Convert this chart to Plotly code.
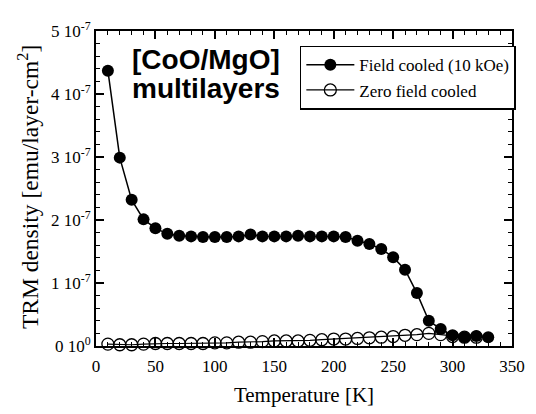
import plotly.graph_objects as go

# temperatures (K) and TRM density (units of 1e-7 emu/layer-cm^2)
temp = [10, 20, 30, 40, 50, 60, 70, 80, 90, 100, 110, 120, 130, 140, 150, 160, 170,
        180, 190, 200, 210, 220, 230, 240, 250, 260, 270, 280, 290, 300, 310, 320, 330]
fc = [4.37, 2.99, 2.32, 2.01, 1.87, 1.78, 1.75, 1.74, 1.73, 1.73, 1.73, 1.74, 1.77, 1.74,
      1.74, 1.74, 1.75, 1.74, 1.74, 1.74, 1.73, 1.67, 1.62, 1.54, 1.41, 1.21, 0.84, 0.40,
      0.27, 0.17, 0.14, 0.16, 0.14]
temp_zfc = [10, 20, 30, 40, 50, 60, 70, 80, 90, 100, 110, 120, 130, 140, 150, 160, 170,
            180, 190, 200, 210, 220, 230, 240, 250, 260, 270, 280, 290, 300, 310, 320]
zfc = [0.03, 0.02, 0.02, 0.03, 0.04, 0.04, 0.04, 0.04, 0.04, 0.05, 0.05, 0.06, 0.06, 0.07,
       0.08, 0.08, 0.08, 0.09, 0.10, 0.11, 0.11, 0.12, 0.13, 0.14, 0.15, 0.17, 0.18, 0.20,
       0.18, 0.15, 0.14, 0.14]

x_ticks = [0, 50, 100, 150, 200, 250, 300, 350]
y_ticks = [0, 1, 2, 3, 4, 5]
y_ticktext = ["0 10<sup>0</sup>"] + [f"{v} 10<sup>-7</sup>" for v in y_ticks[1:]]

SERIF = "Liberation Serif, Times New Roman, serif"
SANS = "Liberation Sans, Arial, sans-serif"
TICK = "black"

fig = go.Figure()
fig.add_trace(go.Scatter(
    x=temp, y=[v * 1e-7 for v in fc], name="Field cooled (10 kOe)", legendgroup="fc",
    mode="lines+markers", line=dict(color="black", width=1.5),
    marker=dict(symbol="circle", size=12, color="black"), cliponaxis=False))
fig.add_trace(go.Scatter(
    x=temp_zfc, y=[v * 1e-7 for v in zfc], name="Zero field cooled", legendgroup="zfc",
    mode="lines+markers", line=dict(color="black", width=1.2),
    marker=dict(symbol="circle-open", size=12, color="black", line=dict(width=1.3)),
    cliponaxis=False))

# ticks inside, mirrored on all four sides (major + minor)
tick_common = dict(ticks="inside", ticklen=8, tickwidth=1.5, tickcolor=TICK,
                   showgrid=False, zeroline=False, showline=True, linecolor="black",
                   linewidth=2, mirror="allticks")
minor_x = dict(dtick=10, ticks="inside", ticklen=4, tickcolor=TICK, tickwidth=1.2)
minor_y = dict(dtick=0.2e-7, ticks="inside", ticklen=4, tickcolor=TICK, tickwidth=1.2)

fig.update_xaxes(range=[0, 350], tickvals=x_ticks, minor=minor_x,
                 tickfont=dict(family=SERIF, size=17, color="black"), ticklabelstandoff=4,
                 title=dict(text="Temperature [K]", font=dict(family=SERIF, size=21, color="black"),
                            standoff=12),
                 **tick_common)
fig.update_yaxes(range=[0, 5e-7], tickvals=[v * 1e-7 for v in y_ticks], ticktext=y_ticktext,
                 minor=minor_y, tickfont=dict(family=SERIF, size=17, color="black"),
                 **tick_common)

# y-axis title placed as rotated text
fig.add_annotation(xref="paper", yref="paper", x=-0.163, y=0.505, textangle=-90,
                   xanchor="center", yanchor="middle",
                   text="TRM density [emu/layer-cm<sup>2</sup>]", showarrow=False,
                   font=dict(family=SERIF, size=23.5, color="black"))

fig.add_annotation(xref="paper", yref="paper", x=0.082, y=0.965, xanchor="left", yanchor="top",
                   text="<b>[CoO/MgO]</b>", showarrow=False,
                   font=dict(family=SANS, size=28, color="black"))
fig.add_annotation(xref="paper", yref="paper", x=0.082, y=0.872, xanchor="left", yanchor="top",
                   text="<b>multilayers</b>", showarrow=False,
                   font=dict(family=SANS, size=28, color="black"))

fig.update_layout(
    width=528, height=406,
    margin=dict(l=88, r=11, t=17, b=67),
    paper_bgcolor="white", plot_bgcolor="white",
    showlegend=True,
    legend=dict(x=0.49, y=0.953, xanchor="left", yanchor="top",
                bgcolor="white", bordercolor="black", borderwidth=1.5,
                traceorder="grouped", tracegroupgap=0, itemwidth=48,
                font=dict(family=SERIF, size=17, color="black")),
)

fig.write_html("out.html")
